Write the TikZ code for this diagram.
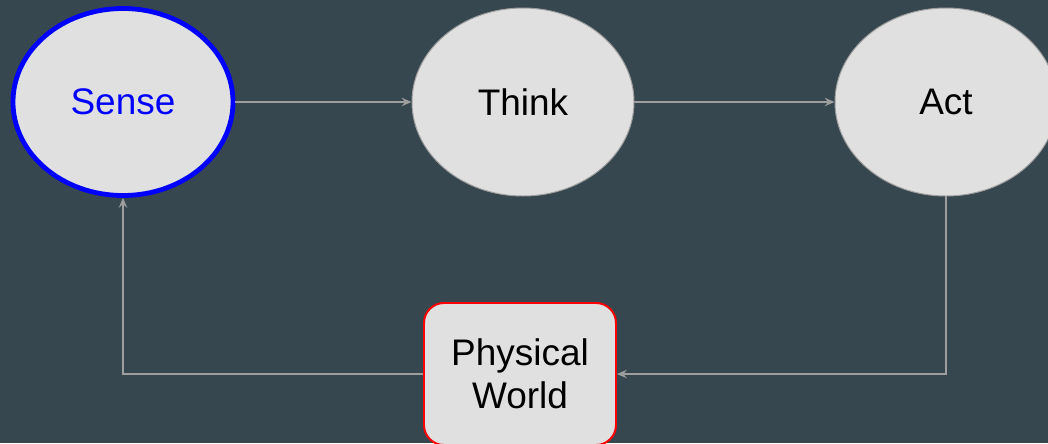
\documentclass[tikz,border=0pt]{standalone}
\usepackage{fontspec}
\setmainfont{Liberation Sans}
\usepackage{tikz}
\usetikzlibrary{arrows.meta,shapes.geometric}

\definecolor{slate}{RGB}{55,71,79}
\definecolor{pale}{RGB}{224,224,224}
\definecolor{wire}{RGB}{158,158,158}

\begin{document}
\begin{tikzpicture}
		\fill[slate] (0,0) rectangle (26.2,-11.075);
		\useasboundingbox (0,0) rectangle (26.2,-11.075);

		\begin{scope}[every node/.style={fill=pale,align=center,font=\fontsize{26.3}{30.5}\selectfont}]
		    \node[ellipse,draw=blue,line width=3.4pt,text=blue,minimum width=5.5cm,minimum height=4.675cm] (sense) at (3.075,-2.55) {Sense};
		    \node[ellipse,draw=wire,line width=0.7pt,minimum width=5.55cm,minimum height=4.7cm] (think) at (13.075,-2.55) {Think};
		    \node[ellipse,draw=wire,line width=0.7pt,minimum width=5.55cm,minimum height=4.7cm] (act) at (23.65,-2.55) {Act};
		    \node[rectangle,rounded corners=0.5cm,draw=red,line width=1.4pt,minimum width=4.8cm,minimum height=3.55cm] (world) at (13.0,-9.35) {Physical\\World};
		\end{scope}

		\begin{scope}[>={Stealth[wire,length=7pt,width=6pt,inset=2.5pt]},
		              every path/.style={draw=wire,line width=1pt}]
		    	\path[->] (sense) -- (think);
		    	\path[->] (think) -- (act);
			\path[->] (act.south) |- (world.east);
			\path[->] (world.west) -| (sense.south);
		\end{scope}
		\end{tikzpicture}
\end{document}
